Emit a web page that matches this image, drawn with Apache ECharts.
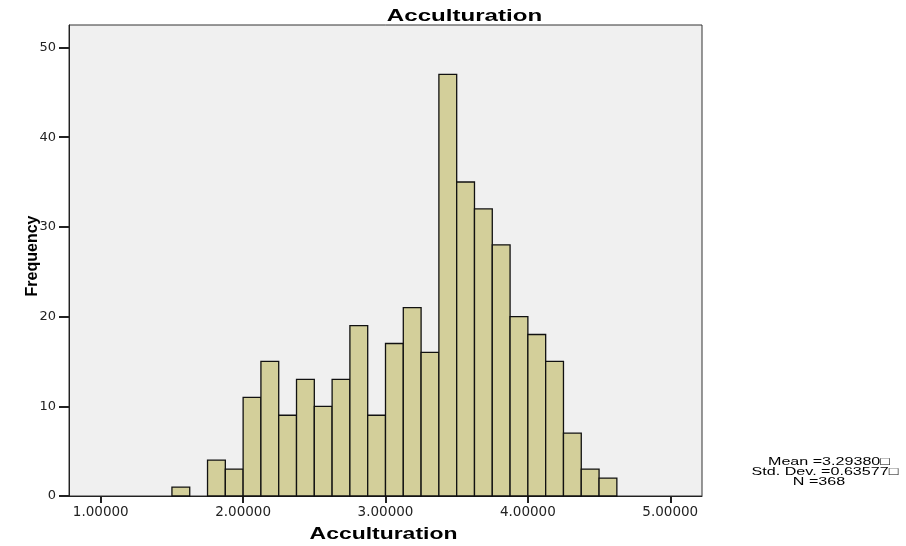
<!DOCTYPE html>
<html><head><meta charset="utf-8">
<script src="https://cdn.jsdelivr.net/npm/echarts@6/dist/echarts.min.js"></script>
<style>html,body{margin:0;padding:0;background:#fff}#c{width:906px;height:546px}</style>
</head><body><div id="c"></div>
<script>
var binStart = 1.5;
var binWidth = 0.125;
var counts = [1,0,4,3,11,15,9,13,10,13,19,9,17,21,16,47,35,32,28,20,18,15,7,3,2];
var xTicks = [1,2,3,4,5];
var yTicks = [0,10,20,30,40,50];
var titleText = 'Acculturation';
var xName = 'Acculturation';
var yName = 'Frequency';
var statsLines = ['Mean =3.29380\u25A1','Std. Dev. =0.63577\u25A1','N =368'];

var data = [];
counts.forEach(function(c,i){ if(c>0) data.push([binStart+i*binWidth, binStart+(i+1)*binWidth, c]); });

var chart = echarts.init(document.getElementById('c'));
var font = 'Liberation Sans, Arial, sans-serif';
var wide = 'DejaVu Sans, sans-serif';
var statX = [829, 825, 819];
chart.setOption({
  animation:false,
  backgroundColor:'#fff',
  grid:{left:69, right:204, top:25, bottom:50, show:true, backgroundColor:'#f0f0f0', borderColor:'#333', borderWidth:1},
  xAxis:{type:'value', min:0.777, max:5.223, interval:1,
    axisLine:{show:true, lineStyle:{color:'#222', width:1}},
    axisTick:{show:true, length:7, lineStyle:{color:'#222', width:2}, customValues:xTicks},
    axisLabel:{fontFamily:wide, fontSize:13.5, color:'#222', margin:9, customValues:xTicks,
      formatter:function(v){return v.toFixed(5);}},
    splitLine:{show:false}},
  yAxis:{type:'value', min:0, max:52.5, interval:10,
    axisLine:{show:true, lineStyle:{color:'#222', width:1}},
    axisTick:{show:true, length:10, lineStyle:{color:'#222', width:2}, customValues:yTicks},
    axisLabel:{fontFamily:wide, fontSize:13, color:'#222', margin:13, customValues:yTicks},
    splitLine:{show:false}},
  series:[{
    type:'custom',
    data:data,
    encode:{x:[0,1], y:2},
    renderItem:function(params, api){
      var p0 = api.coord([api.value(0), api.value(2)]);
      var p1 = api.coord([api.value(1), 0]);
      return {type:'rect', shape:{x:p0[0], y:p0[1], width:p1[0]-p0[0], height:p1[1]-p0[1]},
        style:{fill:'#d3cf9a', stroke:'#111', lineWidth:1.3}};
    }
  }],
  graphic:[
    {type:'text', x:464.5, y:16.5, scaleX:1.46,
      style:{text:titleText, align:'center', verticalAlign:'middle', font:'bold 16.5px Liberation Sans, Arial, sans-serif', fill:'#000'}},
    {type:'text', x:383.5, y:534.5, scaleX:1.39,
      style:{text:xName, align:'center', verticalAlign:'middle', font:'bold 16.5px Liberation Sans, Arial, sans-serif', fill:'#000'}},
    {type:'text', x:33, y:256, rotation:Math.PI/2,
      style:{text:yName, align:'center', verticalAlign:'middle', font:'bold 16px Liberation Sans, Arial, sans-serif', fill:'#000'}}
  ].concat(statsLines.map(function(t,i){
    return {type:'text', x:statX[i], y:461.5+i*10, scaleX:1.4,
      style:{text:t, align:'center', verticalAlign:'middle', font:'11.5px Liberation Sans, Arial, sans-serif', fill:'#000'}};
  }))
});
</script></body></html>
